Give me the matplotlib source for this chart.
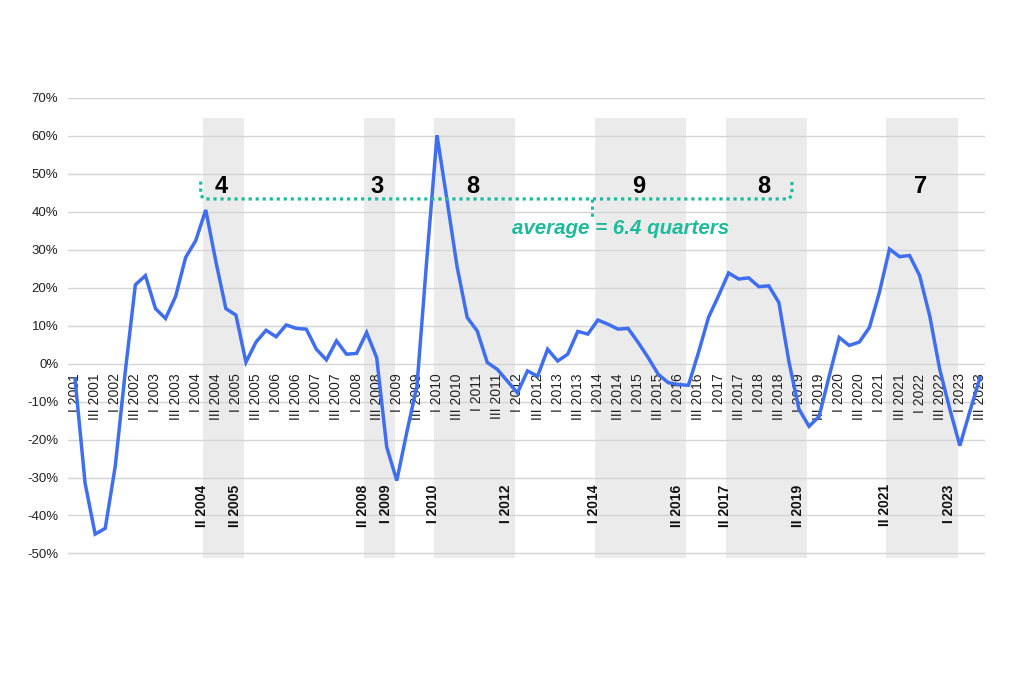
import matplotlib
matplotlib.use("Agg")
import matplotlib.pyplot as plt

plt.rcParams['font.family'] = ['Liberation Sans', 'DejaVu Sans']

# ---- data ----
years = list(range(2001, 2024))
romans = ["I", "II", "III", "IV"]
quarters = [f"{r} {y}" for y in years for r in romans][:91]   # I 2001 .. III 2023

values = [-4, -31.5, -44.9, -43.4, -27, -2, 20.8, 23.2, 14.5, 11.9,
          17.7, 28.0, 32.4, 40.5, 27, 14.5, 12.8, 0.4, 5.7, 8.8,
          7.1, 10.2, 9.3, 9.1, 3.8, 1.0, 6.0, 2.5, 2.7, 8.2,
          1.6, -22, -30.8, -18, -6, 28, 60.2, 43, 25.5, 12.2,
          8.6, 0.3, -1.5, -4.6, -7.7, -1.9, -3.3, 3.8, 0.7, 2.5,
          8.5, 7.8, 11.5, 10.4, 9.1, 9.3, 5.6, 1.6, -2.8, -5.0,
          -5.5, -5.7, 2.9, 12.2, 17.9, 23.9, 22.3, 22.6, 20.3, 20.5,
          16.1, 0.5, -12, -16.5, -13.9, -3.3, 6.9, 4.8, 5.7, 9.5,
          18.8, 30.2, 28.2, 28.5, 23.2, 12.6, -1.5, -12, -21.6, -12.5,
          -3.7]

band_starts = ["II 2004", "II 2008", "I 2010", "I 2014", "II 2017", "II 2021"]
band_ends = ["II 2005", "I 2009", "I 2012", "II 2016", "II 2019", "I 2023"]
band_lengths = [4, 3, 8, 9, 8, 7]
average_text = "average = 6.4 quarters"

yticks = list(range(-50, 71, 10))

# ---- style ----
BLUE = "#3f6ef0"
TEAL = "#1dbb9c"
BAND = "#ebebeb"
GRID = "#d4d4d4"

fig = plt.figure(figsize=(10.24, 6.83), dpi=100)
ax = fig.add_axes([68/1024, 1-558/683, (985-68)/1024, (558-98)/683])

# x axis labels sit on the zero line
ax.spines['bottom'].set_position(('data', 0))
for sp in ax.spines.values():
    sp.set_color('none')

x = list(range(len(values)))
idx = {q: i for i, q in enumerate(quarters)}

# bands
for s, e, n in zip(band_starts, band_ends, band_lengths):
    x0 = idx[s] - 0.3
    x1 = idx[e] - 0.2
    ax.fill_between([x0, x1], -51.2, 64.8, color=BAND, lw=0, zorder=0)
    ax.text((x0 + x1) / 2 - 0.2, 46.8, str(n), fontsize=17, fontweight='bold',
            ha='center', va='center', color='black', zorder=5)
    ax.text(idx[s] - 0.4, -31.8, s, rotation=90, ha='center', va='top',
            fontsize=10, fontweight='bold', color='#111111', zorder=5)
    ax.text(idx[e] - 1.1, -31.8, e, rotation=90, ha='center', va='top',
            fontsize=10, fontweight='bold', color='#111111', zorder=5)

# grid
for yv in yticks:
    ax.axhline(yv, color=GRID, lw=1.0, zorder=1)

# line
ax.plot(x, values, color=BLUE, lw=2.5, zorder=4, solid_joinstyle='miter')

# bracket
dots = dict(color=TEAL, lw=2.3, linestyle=(0, (1, 1.2)), dash_capstyle='butt', zorder=6)
xl, xr, xm = 12.5, 71.3, 51.4
ax.plot([xl, xl, xl + 0.3, xr - 0.3, xr, xr], [48, 44.5, 43.4, 43.4, 44.5, 48], **dots)
ax.plot([xm, xm], [43.4, 38.6], **dots)
ax.text(54.3, 35.6, average_text, color=TEAL, fontsize=14.8, fontweight='bold',
        fontstyle='italic', ha='center', va='center', zorder=6)

ax.set_xlim(-0.7, 90.5)
ax.set_ylim(-51.2, 70)
ax.set_yticks(yticks)
ax.set_yticklabels([f"{v}%" for v in yticks], fontsize=9.5, color='#222222')
ax.set_xticks(x[::2])
ax.set_xticklabels(quarters[::2], rotation=90, fontsize=10, color='#222222',
                   va='top', ha='center')
ax.tick_params(axis='both', length=0)
ax.tick_params(axis='x', pad=7)
ax.tick_params(axis='y', pad=7)

fig.savefig("out.png", dpi=100, facecolor='white')
